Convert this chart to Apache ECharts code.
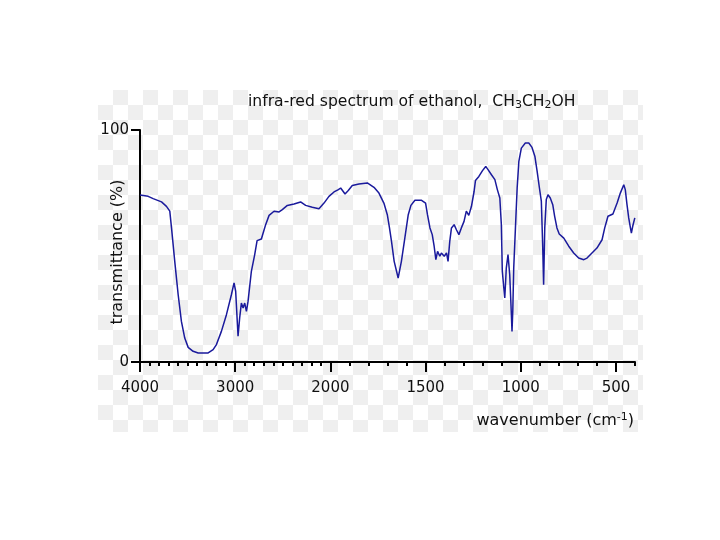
<!DOCTYPE html>
<html>
<head>
<meta charset="utf-8">
<script src="https://cdn.jsdelivr.net/npm/echarts@6/dist/echarts.min.js"></script>
<style>
  html, body { margin: 0; padding: 0; background: #fff; }
  #wrap { position: relative; width: 720px; height: 540px; }
  #checker {
    position: absolute; left: 98px; top: 90px; width: 545px; height: 342px;
    background: repeating-conic-gradient(#efefef 0 25%, #ffffff 0 50%) 0 0 / 30px 30px;
  }
  #main { position: absolute; left: 0; top: 0; width: 720px; height: 540px; }
</style>
</head>
<body>
<div id="wrap">
  <div id="checker"></div>
  <div id="main"></div>
</div>
<script>
// wavenumber (cm-1) and % transmittance
var wavenumbers = [
    4000, 3985, 3914, 3862, 3774, 3722, 3687, 3669, 3635, 3599,
    3565, 3530, 3494, 3442, 3389, 3284, 3232, 3197, 3145, 3092,
    3040, 3012, 2995, 2970, 2953, 2935, 2917, 2900, 2882, 2865,
    2830, 2795, 2770, 2725, 2700, 2680, 2644, 2592, 2539, 2505,
    2452, 2382, 2313, 2260, 2190, 2120, 2067, 2015, 1981, 1958,
    1946, 1923, 1906, 1885, 1850, 1806, 1797, 1771, 1745, 1719,
    1701, 1690, 1679, 1665, 1644, 1627, 1609, 1591, 1577, 1556,
    1521, 1500, 1490, 1477, 1465, 1455, 1446, 1437, 1425, 1417,
    1402, 1390, 1382, 1373, 1364, 1350, 1338, 1325, 1312, 1298,
    1286, 1273, 1259, 1245, 1238, 1220, 1201, 1184, 1172, 1154,
    1136, 1123, 1110, 1102, 1097, 1089, 1084, 1076, 1067, 1058,
    1050, 1046, 1042, 1037, 1028, 1019, 1010, 997, 976, 958,
    941, 926, 914, 902, 892, 885, 880, 874, 866, 857,
    845, 832, 822, 810, 798, 774, 748, 722, 696, 669,
    652, 626, 600, 573, 559, 542, 516, 494, 477, 459,
    451, 442, 433, 424, 419, 412, 401
];
var transmittance = [
    72.0, 72.1, 71.4, 70.4, 69.0, 67.1, 65.0, 57.8, 43.4, 29.0,
    17.5, 10.3, 6.3, 4.6, 3.9, 3.9, 5.3, 7.5, 13.2, 20.4,
    29.0, 34.1, 30.5, 11.1, 19.0, 25.4, 23.3, 25.4, 21.8, 26.1,
    39.1, 46.3, 52.3, 53.0, 56.5, 59.2, 63.2, 65.0, 64.7, 65.7,
    67.5, 68.1, 69.0, 67.5, 66.7, 66.1, 68.5, 71.4, 73.3, 74.3,
    75.0, 72.4, 73.9, 76.1, 76.7, 77.2, 77.6, 75.3, 72.8, 68.5,
    63.5, 58.0, 52.0, 43.4, 36.2, 43.4, 53.4, 63.5, 67.5, 69.7,
    69.7, 68.5, 63.5, 57.8, 54.9, 49.9, 44.1, 47.7, 45.6, 47.0,
    45.6, 47.0, 43.4, 52.0, 57.8, 59.2, 57.0, 54.9, 57.8, 60.6,
    65.0, 63.2, 67.1, 73.6, 78.2, 80.0, 82.5, 84.3, 82.9, 80.7,
    78.6, 74.3, 70.7, 59.2, 39.1, 31.9, 27.6, 40.5, 46.3, 37.6,
    21.8, 13.2, 22.0, 40.5, 57.8, 75.0, 86.5, 92.2, 94.4, 94.4,
    92.5, 88.7, 82.2, 75.0, 69.3, 50.6, 33.3, 57.8, 70.0, 72.1,
    70.7, 67.8, 62.8, 57.8, 55.2, 53.4, 49.9, 47.0, 44.8, 44.1,
    44.8, 47.0, 49.1, 52.7, 57.8, 62.8, 63.8, 68.5, 72.8, 76.4,
    74.3, 67.8, 62.1, 57.8, 55.6, 58.5, 62.1
];
var majorTicks = [4000, 3000, 2000, 1500, 1000, 500];
var yTicks = [0, 100];

// the wavenumber axis changes scale at 2000 (twice as wide below it)
function toU(w) {
    return w >= 2000 ? 4000 - w : 2000 + (2000 - w) * 2;
}
function toW(u) {
    return u <= 2000 ? 4000 - u : 2000 - (u - 2000) / 2;
}

var minorTicks = [];
for (var w = 4000; w >= 400; w -= 100) {
    minorTicks.push(toU(w));
}
var majorU = majorTicks.map(toU);

var points = [];
for (var i = 0; i < wavenumbers.length; i++) {
    points.push([toU(wavenumbers[i]), transmittance[i]]);
}

var font = 'DejaVu Sans';
var myChart = echarts.init(document.getElementById('main'));

var option = {
    animation: false,
    title: [
        {
            text: '{a|infra-red spectrum of ethanol,  CH}{s|3}{a|CH}{s|2}{a|OH}',
            left: 243,
            top: 88,
            textStyle: {
                fontWeight: 'normal',
                rich: {
                    a: { fontFamily: font, fontSize: 15.6, fontWeight: 'normal', color: '#111', lineHeight: 18 },
                    s: { fontFamily: font, fontSize: 11, fontWeight: 'normal', color: '#111', lineHeight: 10, verticalAlign: 'bottom' }
                }
            }
        },
        {
            text: '{a|wavenumber (cm}{s|-1}{a|)}',
            right: 81,
            top: 407,
            textStyle: {
                fontWeight: 'normal',
                rich: {
                    a: { fontFamily: font, fontSize: 16, fontWeight: 'normal', color: '#111', lineHeight: 18 },
                    s: { fontFamily: font, fontSize: 11, fontWeight: 'normal', color: '#111', lineHeight: 10, verticalAlign: 'top' }
                }
            }
        }
    ],
    grid: {
        left: 140,
        right: 85,
        top: 130,
        bottom: 178
    },
    xAxis: [
        {
            type: 'value',
            min: 0,
            max: toU(400),
            axisLine: { show: true, lineStyle: { color: '#000', width: 2 } },
            axisTick: {
                show: true,
                customValues: minorTicks,
                length: 4,
                lineStyle: { color: '#000', width: 2 }
            },
            axisLabel: {
                customValues: majorU,
                formatter: function (v) { return String(Math.round(toW(v))); },
                fontFamily: font,
                fontSize: 15,
                color: '#111',
                margin: 19
            },
            splitLine: { show: false }
        },
        {
            type: 'value',
            position: 'bottom',
            min: 0,
            max: toU(400),
            axisLine: { show: false },
            axisTick: {
                show: true,
                customValues: majorU,
                length: 10,
                lineStyle: { color: '#000', width: 2 }
            },
            axisLabel: { show: false },
            splitLine: { show: false }
        }
    ],
    yAxis: {
        type: 'value',
        min: 0,
        max: 100,
        name: 'transmittance (%)',
        nameLocation: 'middle',
        nameGap: 14,
        nameMoveOverlap: false,
        nameTextStyle: { fontFamily: font, fontSize: 16, color: '#111', padding: [0, 12, 0, 0] },
        axisLine: { show: true, lineStyle: { color: '#000', width: 2 } },
        axisTick: {
            show: true,
            customValues: yTicks,
            length: 9,
            lineStyle: { color: '#000', width: 2 }
        },
        axisLabel: {
            customValues: yTicks,
            fontFamily: font,
            fontSize: 15,
            color: '#111',
            margin: 11
        },
        splitLine: { show: false }
    },
    series: [
        {
            type: 'line',
            xAxisIndex: 0,
            data: points,
            showSymbol: false,
            lineStyle: { color: '#1a1a9c', width: 1.5 }
        }
    ]
};

myChart.setOption(option);
</script>
</body>
</html>
